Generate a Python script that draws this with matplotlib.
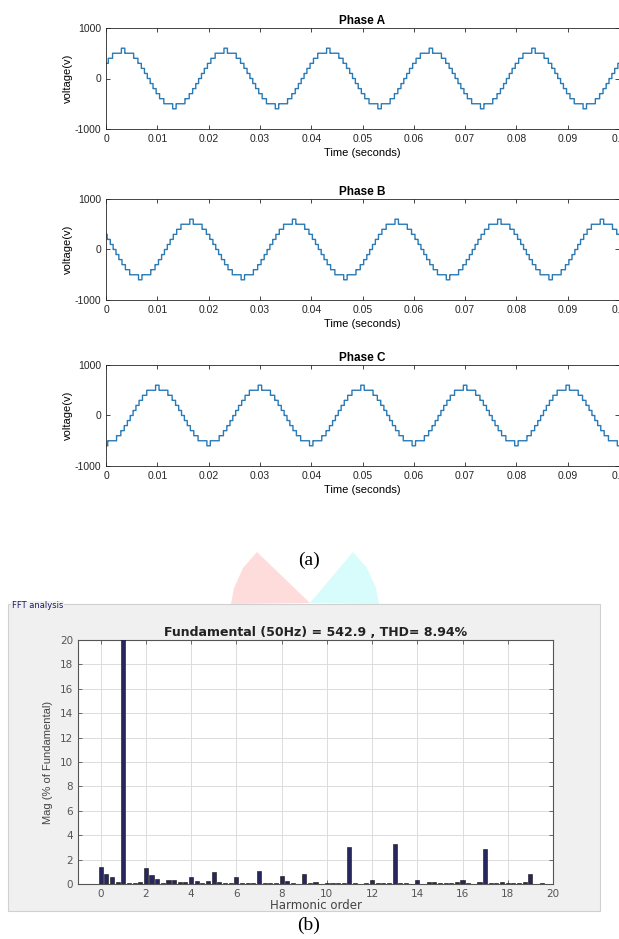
import numpy as np
import matplotlib.pyplot as plt
from matplotlib.patches import Polygon, Rectangle

plt.rcParams['font.family'] = ['Liberation Sans', 'DejaVu Sans']
plt.rcParams['axes.unicode_minus'] = False

# staircase inverter output: switching angles (deg, first quarter wave) and level step
switch_deg = [5, 15, 26, 38, 53, 84]
level_step = 100
f0 = 50
phase_names = ['Phase A', 'Phase B', 'Phase C']
peak_time = [0.00333, 0.01667, 0.0100]   # time of first positive peak per phase

# FFT spectrum (harmonic order, % of fundamental)
harm_order = np.arange(0, 19.76, 0.25)
harm_mag = [1.4, 0.8, 0.55, 0.2, 100, 0.05, 0.05, 0.2,
            1.35, 0.7, 0.4, 0.1, 0.3, 0.3, 0.15, 0.15,
            0.6, 0.25, 0.1, 0.25, 1.0, 0.15, 0.05, 0.05,
            0.55, 0.1, 0.05, 0.1, 1.1, 0.1, 0.1, 0.1,
            0.65, 0.25, 0.1, 0.0, 0.8, 0.05, 0.2, 0.0,
            0.05, 0.1, 0.05, 0.1, 3.0, 0.05, 0.0, 0.1,
            0.3, 0.1, 0.05, 0.1, 3.3, 0.1, 0.05, 0.0,
            0.35, 0.0, 0.15, 0.15, 0.1, 0.1, 0.1, 0.15,
            0.35, 0.1, 0.0, 0.2, 2.9, 0.05, 0.05, 0.15,
            0.1, 0.1, 0.05, 0.15, 0.85, 0.0, 0.05, 0.0]
fund_text = 'Fundamental (50Hz) = 542.9 , THD= 8.94%'

W, H = 619, 939
fig = plt.figure(figsize=(W/100, H/100), dpi=100)

def box(l, t, r, b):
    return [l/W, 1 - b/H, (r - l)/W, (b - t)/H]

def staircase(t, tp):
    th = np.mod(360*f0*t + 90 - 360*f0*tp, 360)
    half = np.where(th < 180, th, th - 180)
    q = np.minimum(half, 180 - half)
    n = np.zeros_like(t)
    for a in switch_deg:
        n += (q >= a)
    return np.where(th < 180, 1, -1)*n*level_step

# watermark wedges
fig.patches.append(Polygon([(310/W, 1-603/H), (257/W, 1-552/H), (243/W, 1-568/H),
                            (234/W, 1-588/H), (231/W, 1-604/H)], closed=True,
                           facecolor='#ffdcdc', edgecolor='none', transform=fig.transFigure, zorder=0))
fig.patches.append(Polygon([(310/W, 1-603/H), (353/W, 1-552/H), (367/W, 1-568/H),
                            (376/W, 1-588/H), (379/W, 1-604/H)], closed=True,
                           facecolor='#d8fbfb', edgecolor='none', transform=fig.transFigure, zorder=0))

t = np.linspace(0, 0.1, 40001)
tops = [28, 199, 365]
for name, tp, top in zip(phase_names, peak_time, tops):
    ax = fig.add_axes(box(106, top, 619, top + 101))
    ax.plot(t, staircase(t, tp), color='#2a7ab5', lw=1.0, drawstyle='steps-post')
    ax.set_xlim(0, 0.1)
    ax.set_ylim(-1000, 1000)
    ax.set_xticks(np.arange(0, 0.101, 0.01))
    ax.set_xticklabels(['0'] + ['%.2f' % v for v in np.arange(0.01, 0.095, 0.01)] + ['0.1'])
    ax.set_yticks([-1000, 0, 1000])
    ax.tick_params(direction='in', top=True, right=True, labelsize=7.5, length=3,
                   colors='#262626', width=0.6)
    for s in ax.spines.values():
        s.set_color('#262626')
        s.set_linewidth(0.6)
    ax.set_title(name, fontsize=8.5, fontweight='bold', pad=3)
    ax.set_xlabel('Time (seconds)', fontsize=8, labelpad=3)
    ax.set_ylabel('voltage(v)', fontsize=8, labelpad=1)

fig.text(309/W, 1 - 560/H, '(a)', ha='center', va='center', fontsize=14,
         family='Liberation Serif')

# FFT panel
fig.patches.append(Rectangle((8/W, 1 - 911/H), (600 - 8)/W, (911 - 604)/H,
                             transform=fig.transFigure, facecolor='#f0f0f0',
                             edgecolor='#d0d0d0', lw=0.8, zorder=1))
fig.text(12/W, 1 - 606/H, 'FFT analysis', fontsize=6, color='#1a1a6a',
         family='DejaVu Sans', va='center', ha='left',
         bbox=dict(facecolor='#f0f0f0', edgecolor='none', pad=0.5), zorder=3)

ax = fig.add_axes(box(78, 640, 553, 884))
ax.set_zorder(2)
ax.bar(harm_order, harm_mag, width=0.18, color='#27265e', edgecolor='#111111', lw=0.4, zorder=3)
ax.set_xlim(-1, 20)
ax.set_ylim(0, 20)
ax.set_xticks(np.arange(0, 21, 2))
ax.set_yticks(np.arange(0, 21, 2))
ax.grid(True, color='#dcdcdc', lw=0.7)
ax.set_axisbelow(True)
ax.tick_params(direction='in', top=True, right=True, labelsize=7.5, length=3,
               colors='#555555', width=0.6)
for lab in ax.get_xticklabels() + ax.get_yticklabels():
    lab.set_family('DejaVu Sans')
for s in ax.spines.values():
    s.set_color('#555555')
    s.set_linewidth(0.8)
ax.set_title(fund_text, fontsize=9, fontweight='bold', family='DejaVu Sans', pad=3,
             color='#222222')
ax.set_xlabel('Harmonic order', fontsize=8.5, family='DejaVu Sans', labelpad=0, color='#444444')
ax.set_ylabel('Mag (% of Fundamental)', fontsize=8, labelpad=5, color='#444444')

fig.text(309/W, 1 - 925/H, '(b)', ha='center', va='center', fontsize=14,
         family='Liberation Serif')

fig.savefig('out.png', dpi=100)
